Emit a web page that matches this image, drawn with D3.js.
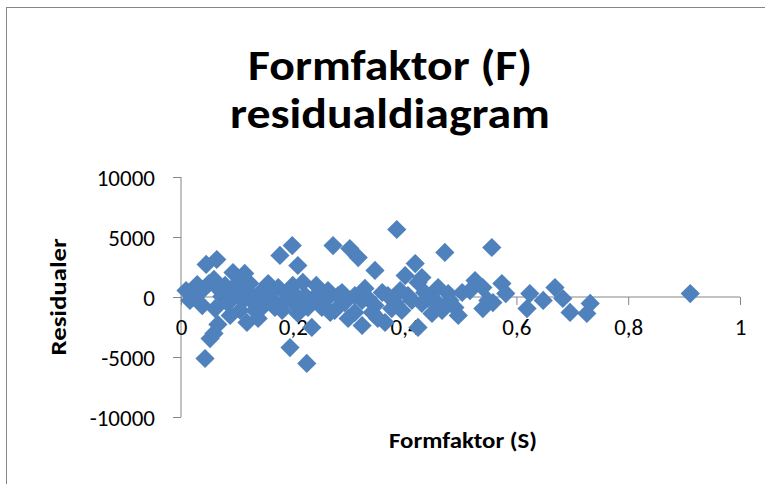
<!DOCTYPE html>
<html><head><meta charset="utf-8">
<script src="https://cdn.jsdelivr.net/npm/d3@7"></script>
<style>body{margin:0;background:#fff}svg{display:block}</style>
</head><body>
<svg id="c" width="765" height="484"></svg>
<script>
const titleLines = ["Formfaktor (F)", "residualdiagram"];
const xTitle = "Formfaktor (S)";
const yTitle = "Residualer";
const xTicks = [0, 0.2, 0.4, 0.6, 0.8, 1];
const xTickLabels = ["0", "0,2", "0,4", "0,6", "0,8", "1"];
const yTicks = [-10000, -5000, 0, 5000, 10000];
const yTickLabels = ["-10000", "-5000", "0", "5000", "10000"];
const formfaktorS = [0.009,0.016,0.029,0.025,0.036,0.045,0.064,0.043,0.052,0.059,0.066,0.093,0.059,0.050,0.061,0.073,0.084,0.097,0.106,0.114,0.118,0.123,0.129,0.138,0.145,0.145,0.156,0.163,0.168,0.174,0.177,0.199,0.209,0.186,0.191,0.209,0.209,0.218,0.227,0.195,0.225,0.234,0.245,0.252,0.263,0.272,0.275,0.281,0.288,0.302,0.317,0.311,0.311,0.324,0.335,0.342,0.347,0.360,0.365,0.383,0.386,0.401,0.406,0.419,0.424,0.424,0.431,0.431,0.449,0.460,0.467,0.472,0.478,0.490,0.496,0.517,0.526,0.540,0.540,0.556,0.558,0.574,0.581,0.624,0.648,0.619,0.669,0.683,0.696,0.732,0.726,0.911,0.020,0.079,0.088,0.111,0.132,0.150,0.159,0.181,0.200,0.206,0.222,0.236,0.258,0.267,0.293,0.299,0.324,0.329,0.347,0.352,0.370,0.377,0.392,0.395,0.413,0.436,0.442,0.454,0.481,0.503,0.549,0.138,0.118,0.038,0.070,0.102,0.242];
const residualer = [540,-290,1040,290,460,2710,3125,-5125,-3460,-3040,-2290,2040,1460,1125,-960,40,-540,290,-1125,1960,540,1125,-460,125,540,-875,1125,-290,-875,790,3460,4290,2625,-290,290,-40,-1375,1210,-875,-4210,-5540,-2540,290,-875,540,4290,-1125,125,375,4040,3290,125,-1290,-2375,-125,-1290,2210,375,-2125,-460,5625,1790,125,2790,1210,-2540,-540,1625,-1375,790,-1125,3710,290,-875,-1540,540,1375,790,-960,4125,-460,1125,290,290,-290,-960,790,-125,-1290,-540,-1375,290,40,960,-1540,-290,-1125,-125,375,-1125,960,-710,125,-290,-290,-1290,-460,-1790,-290,710,-710,-1790,125,-960,540,-1125,-290,375,-125,-290,-290,375,-290,-1790,-2125,-710,540,1210,960];

const svg = d3.select("#c");
const font = "Carlito, Calibri, 'Open Sans', sans-serif";
const axisCol = "#868686";

svg.append("rect").attr("x",6.5).attr("y",7.5).attr("width",800).attr("height",500)
  .attr("fill","#fff").attr("stroke",axisCol).attr("stroke-width",1);

const x = d3.scaleLinear().domain([0,1]).range([181,740]);
const y = d3.scaleLinear().domain([-10000,10000]).range([417,177]);

// title
const tY = [80, 128];
const tW = [284, 320];
titleLines.forEach((t,i)=>{
  svg.append("text").attr("x",390).attr("y",tY[i]).attr("text-anchor","middle")
    .attr("font-family",font).attr("font-weight","bold").attr("font-size",42)
    .attr("textLength",tW[i]).attr("lengthAdjust","spacingAndGlyphs")
    .attr("fill","#000").text(t);
});

// y axis
const yAxis = d3.axisLeft(y).tickValues(yTicks).tickSize(8).tickPadding(18)
  .tickFormat((d,i)=>yTickLabels[i]);
const gy = svg.append("g").attr("transform","translate(181,0)").call(yAxis);
gy.select(".domain").attr("stroke",axisCol).attr("d","M0,"+y(-10000)+"V"+y(10000));
gy.selectAll(".tick line").attr("stroke",axisCol);
gy.selectAll(".tick text").attr("font-family",font).attr("font-size",23).attr("fill","#000").attr("dy","0.36em");

// x axis at y=0
const xAxis = d3.axisBottom(x).tickValues(xTicks).tickSize(8).tickPadding(14)
  .tickFormat((d,i)=>xTickLabels[i]);
const gx = svg.append("g").attr("transform","translate(0,"+y(0)+")").call(xAxis);
gx.select(".domain").attr("stroke",axisCol).attr("d","M"+x(0)+",0H"+x(1));
gx.selectAll(".tick line").attr("stroke",axisCol);
gx.selectAll(".tick text").attr("font-family",font).attr("font-size",23).attr("fill","#000");

// axis titles
svg.append("text").attr("x",463).attr("y",448).attr("text-anchor","middle")
  .attr("font-family",font).attr("font-weight","bold").attr("font-size",23)
  .attr("textLength",148).attr("lengthAdjust","spacingAndGlyphs").text(xTitle);
svg.append("text").attr("transform","translate(66,297) rotate(-90)").attr("text-anchor","middle")
  .attr("font-family",font).attr("font-weight","bold").attr("font-size",23)
  .attr("textLength",117).attr("lengthAdjust","spacingAndGlyphs").text(yTitle);

// points
const pts = formfaktorS.map((v,i)=>({x:v, r:residualer[i]}));
const sym = d3.symbol().type(d3.symbolSquare).size(185);
svg.append("g").selectAll("path").data(pts).join("path")
  .attr("d",sym())
  .attr("transform",d=>"translate("+x(d.x)+","+y(d.r)+") rotate(45)")
  .attr("fill","#4F81BD");
</script>
</body></html>
